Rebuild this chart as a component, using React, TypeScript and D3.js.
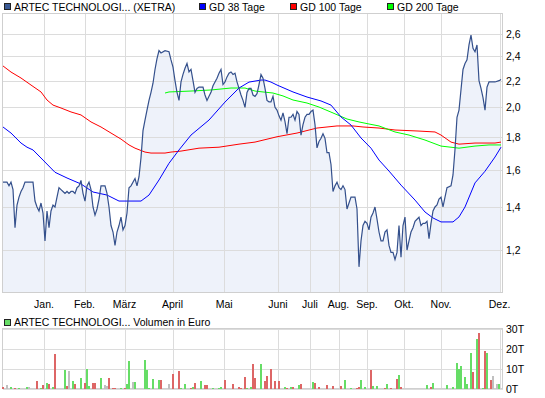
import React from "react";
import * as d3 from "d3";

// trading-day index (0..249) -> close in EUR
const price: [number, number][] = [
  [0, 1.53], [2, 1.53], [3, 1.51], [4, 1.53], [5, 1.49], [6, 1.3], [7, 1.41], [8, 1.45], [9, 1.48], [10, 1.5],
  [11, 1.53], [12, 1.53], [15, 1.53], [16, 1.43], [17, 1.4], [18, 1.38], [19, 1.42], [20, 1.37], [21, 1.24], [22, 1.38],
  [23, 1.3], [24, 1.38], [25, 1.41], [26, 1.4], [27, 1.45], [28, 1.5], [29, 1.49], [30, 1.48], [31, 1.47], [32, 1.48],
  [33, 1.47], [34, 1.48], [35, 1.48], [36, 1.47], [37, 1.5], [38, 1.51], [39, 1.54], [40, 1.47], [41, 1.43], [42, 1.51],
  [43, 1.53], [44, 1.49], [45, 1.4], [46, 1.36], [47, 1.39], [48, 1.44], [49, 1.51], [51, 1.51], [52, 1.47], [53, 1.4],
  [54, 1.31], [55, 1.28], [56, 1.22], [57, 1.28], [58, 1.31], [59, 1.35], [60, 1.29], [61, 1.31], [62, 1.37], [63, 1.5],
  [64, 1.51], [66, 1.55], [67, 1.51], [68, 1.56], [69, 1.67], [70, 1.84], [71, 1.91], [72, 1.98], [73, 2.05], [74, 2.11],
  [75, 2.18], [76, 2.29], [77, 2.38], [78, 2.45], [79, 2.43], [81, 2.45], [83, 2.44], [84, 2.37], [85, 2.31], [86, 2.2],
  [87, 2.11], [88, 2.05], [89, 2.19], [90, 2.25], [91, 2.3], [92, 2.34], [93, 2.27], [94, 2.29], [95, 2.2], [96, 2.11],
  [97, 2.14], [98, 2.15], [100, 2.15], [101, 2.09], [102, 2.05], [103, 2.08], [104, 2.11], [105, 2.16], [107, 2.22], [108, 2.26],
  [109, 2.29], [110, 2.17], [111, 2.19], [112, 2.23], [113, 2.26], [114, 2.27], [115, 2.25], [116, 2.26], [117, 2.19], [118, 2.14],
  [119, 2.09], [120, 2.05], [121, 2.0], [122, 2.11], [123, 2.14], [124, 2.14], [125, 2.09], [126, 2.08], [127, 2.1], [128, 2.17],
  [129, 2.25], [130, 2.22], [131, 2.14], [132, 2.05], [133, 2.04], [134, 2.04], [135, 2.08], [136, 2.0], [137, 1.98], [138, 1.94],
  [139, 1.91], [140, 1.96], [141, 1.9], [142, 1.82], [143, 1.93], [144, 1.93], [145, 1.95], [146, 1.91], [147, 1.97], [148, 1.95],
  [149, 1.81], [150, 1.88], [151, 1.93], [152, 1.95], [153, 1.95], [154, 1.97], [155, 1.98], [156, 1.88], [157, 1.73], [158, 1.77],
  [159, 1.79], [160, 1.82], [161, 1.79], [162, 1.7], [163, 1.7], [164, 1.63], [165, 1.48], [166, 1.51], [167, 1.53], [168, 1.5],
  [169, 1.49], [170, 1.51], [171, 1.49], [172, 1.39], [173, 1.42], [174, 1.45], [176, 1.45], [177, 1.39], [178, 1.13], [179, 1.24],
  [180, 1.31], [181, 1.33], [182, 1.32], [183, 1.29], [184, 1.35], [185, 1.37], [186, 1.4], [187, 1.34], [188, 1.28], [189, 1.24],
  [190, 1.24], [191, 1.28], [192, 1.29], [193, 1.22], [194, 1.19], [195, 1.19], [196, 1.16], [197, 1.19], [198, 1.31], [199, 1.17],
  [200, 1.31], [201, 1.35], [202, 1.2], [203, 1.24], [204, 1.28], [205, 1.3], [206, 1.33], [207, 1.34], [208, 1.35], [209, 1.31],
  [210, 1.32], [211, 1.32], [212, 1.33], [213, 1.25], [214, 1.32], [215, 1.38], [216, 1.4], [217, 1.41], [218, 1.44], [219, 1.45],
  [220, 1.4], [221, 1.45], [222, 1.5], [224, 1.51], [225, 1.57], [226, 1.72], [227, 1.93], [228, 1.98], [229, 2.13], [230, 2.29],
  [231, 2.34], [232, 2.37], [233, 2.5], [234, 2.59], [235, 2.47], [236, 2.44], [237, 2.5], [238, 2.2], [239, 2.14], [240, 2.07],
  [241, 1.98], [242, 2.15], [243, 2.19], [246, 2.19], [248, 2.2], [249, 2.21],
];

const gd38: [number, number][] = [
  [0, 1.864], [4, 1.824], [9, 1.76], [12, 1.734], [15, 1.717], [20, 1.656], [26, 1.585], [32, 1.553], [39, 1.52], [45, 1.477],
  [52, 1.461], [58, 1.43], [69, 1.43], [73, 1.461], [78, 1.542], [83, 1.637], [88, 1.717], [94, 1.811], [103, 1.911], [111, 2.038],
  [118, 2.143], [123, 2.189], [126, 2.197], [129, 2.205], [131, 2.205], [134, 2.189], [137, 2.166], [145, 2.113], [152, 2.075], [159, 2.046],
  [164, 2.016], [169, 1.932], [174, 1.877], [179, 1.792], [184, 1.728], [188, 1.656], [193, 1.592], [199, 1.514], [206, 1.435], [211, 1.375],
  [215, 1.346], [219, 1.327], [225, 1.327], [228, 1.351], [231, 1.4], [236, 1.526], [241, 1.591], [246, 1.674], [249, 1.734],
];

const gd100: [number, number][] = [
  [0, 2.319], [4, 2.269], [9, 2.221], [14, 2.166], [19, 2.113], [22, 2.053], [25, 2.016], [29, 1.995], [34, 1.967], [39, 1.946],
  [44, 1.898], [49, 1.864], [54, 1.824], [59, 1.785], [63, 1.748], [66, 1.728], [71, 1.704], [74, 1.698], [81, 1.698], [84, 1.704],
  [89, 1.71], [98, 1.728], [108, 1.734], [118, 1.753], [126, 1.766], [137, 1.8], [147, 1.824], [157, 1.857], [167, 1.871], [175, 1.871],
  [180, 1.864], [188, 1.857], [196, 1.844], [208, 1.837], [216, 1.831], [219, 1.811], [224, 1.766], [228, 1.753], [236, 1.76], [246, 1.76],
  [249, 1.766],
];

const gd200: [number, number][] = [
  [81, 2.105], [83, 2.113], [94, 2.12], [104, 2.128], [114, 2.143], [121, 2.143], [126, 2.12], [130, 2.113], [135, 2.105], [140, 2.083],
  [145, 2.053], [152, 2.031], [158, 2.002], [165, 1.96], [172, 1.918], [178, 1.898], [183, 1.884], [188, 1.871], [196, 1.831], [203, 1.811],
  [211, 1.779], [219, 1.741], [228, 1.728], [236, 1.741], [243, 1.748], [249, 1.748],
];

// day, volume in thousand EUR, direction (u = up, d = down, n = unchanged)
const volume: [number, number, string][] = [
  [0, 1, "d"], [2, 2, "n"], [4, 1, "u"], [6, 0.5, "d"], [8, 0.5, "u"], [12, 1, "u"], [13, 1, "n"], [17, 4.1, "d"], [19, 0.5, "u"], [20, 2, "d"],
  [22, 3, "u"], [23, 2.5, "d"], [25, 1, "u"], [26, 17.3, "d"], [31, 9.7, "u"], [32, 1.5, "d"], [33, 9.2, "n"], [35, 4.1, "u"], [36, 2.5, "d"], [39, 5.6, "u"],
  [41, 3, "d"], [42, 10.2, "u"], [43, 1.5, "u"], [45, 3, "d"], [46, 3, "d"], [49, 5.6, "u"], [51, 2, "n"], [52, 1.7, "n"], [53, 5.6, "d"], [55, 0.5, "d"],
  [56, 0.5, "d"], [59, 0.5, "u"], [61, 0.5, "d"], [62, 2.5, "u"], [63, 14.2, "u"], [65, 3.6, "n"], [66, 3.6, "u"], [71, 14.7, "u"], [72, 9.7, "u"], [73, 0.5, "u"],
  [75, 5.1, "u"], [78, 4.6, "u"], [79, 4.6, "d"], [83, 2.5, "n"], [85, 7.6, "d"], [88, 9.2, "d"], [89, 0.5, "u"], [91, 2.5, "u"], [94, 0.5, "d"], [95, 1, "u"],
  [96, 3, "d"], [99, 4.1, "u"], [101, 2, "d"], [102, 2, "d"], [105, 0.5, "u"], [108, 0.5, "u"], [109, 1, "u"], [111, 4.6, "d"], [115, 2.5, "d"], [118, 1, "d"],
  [119, 0.5, "d"], [121, 6.1, "d"], [122, 0.5, "u"], [124, 1, "u"], [125, 12.7, "d"], [126, 5.6, "d"], [129, 12.7, "u"], [131, 4.1, "d"], [132, 6.6, "d"], [134, 10.2, "d"],
  [136, 4.1, "d"], [138, 4.1, "d"], [141, 1, "u"], [142, 0.5, "d"], [144, 1, "u"], [145, 1, "d"], [148, 2, "u"], [149, 2.5, "d"], [155, 3.6, "u"], [156, 3, "d"],
  [158, 1, "d"], [162, 2, "d"], [165, 1.5, "d"], [169, 1.5, "d"], [171, 4.6, "u"], [174, 0.5, "u"], [177, 0.5, "d"], [178, 1, "d"], [179, 4.6, "u"], [181, 1, "u"],
  [184, 9.7, "d"], [185, 1.5, "u"], [187, 1.5, "u"], [191, 0.5, "d"], [192, 2.5, "u"], [194, 0.5, "d"], [197, 5.1, "d"], [198, 7.1, "u"], [199, 1, "d"], [212, 2, "u"],
  [214, 1, "d"], [215, 3, "u"], [222, 2, "u"], [225, 1, "u"], [227, 13.2, "u"], [228, 10.2, "u"], [229, 11.7, "u"], [231, 5.8, "u"], [232, 2.5, "u"], [234, 17.8, "u"],
  [235, 8.6, "d"], [237, 24.9, "u"], [238, 28, "d"], [240, 0.5, "u"], [241, 18.8, "d"], [242, 17.8, "u"], [244, 4.6, "d"], [245, 6.6, "n"], [247, 2.5, "n"], [248, 2.5, "u"],
];

const monthLabels = ["Jan.", "Feb.", "März", "April", "Mai", "Juni", "Juli", "Aug.", "Sep.", "Okt.", "Nov.", "Dez."];
const monthDays = [20.5, 40.75, 60.75, 84.75, 110.6, 137.5, 153.5, 167.75, 182, 200.5, 219, 248.25];
const priceTicks = [1.2, 1.4, 1.6, 1.8, 2.0, 2.2, 2.4, 2.6];
const volumeTicks = [0, 10, 20, 30];

const legend = [
  { label: "ARTEC TECHNOLOGI... (XETRA)", color: "#3a5a95", x: 4 },
  { label: "GD 38 Tage", color: "#0000ff", x: 199 },
  { label: "GD 100 Tage", color: "#ff0000", x: 290 },
  { label: "GD 200 Tage", color: "#00ff00", x: 387 },
];

const volColor: Record<string, string> = { u: "#66dd66", d: "#dd6666", n: "#c0c0c0" };

const font = "'Liberation Sans', Arial, sans-serif";
const crisp = (v: number) => Math.round(v) + 0.5;

export default function App() {
  const left = 3, right = 503;
  const pTop = 14, pBottom = 293;
  const vTop = 329, vBottom = 389;

  const x = d3.scaleLinear().domain([0, 250]).range([left, right]);
  const y = d3.scaleLog().domain([1.029, 2.793]).range([pBottom, pTop]);
  const yv = d3.scaleLinear().domain([0, 30]).range([vBottom, vTop]);

  const line = d3.line<[number, number]>().x(d => x(d[0])).y(d => y(d[1]));
  const area = d3.area<[number, number]>().x(d => x(d[0])).y0(pBottom).y1(d => y(d[1]));

  const grid = "#dcdcdc";
  const frame = "#cfcfcf";

  return (
    <svg width={545} height={398} style={{ position: "absolute", left: 0, top: 0, background: "#fff" }}
      fontFamily={font} fontSize={10.5}>
      {/* legend */}
      {legend.map(l => (
        <g key={l.label}>
          <rect x={l.x + 0.5} y={3.5} width={6} height={6} fill={l.color} stroke="#222" />
          <text x={l.x + 10} y={10.5}>{l.label}</text>
        </g>
      ))}

      {/* price panel */}
      <path d={area(price) || ""} fill="#eef2fa" />
      <g stroke={grid} shapeRendering="crispEdges">
        {priceTicks.map(t => (
          <line key={t} x1={left} x2={right} y1={crisp(y(t))} y2={crisp(y(t))} />
        ))}
        {monthDays.map(d => (
          <line key={d} x1={crisp(x(d))} x2={crisp(x(d))} y1={pTop} y2={pBottom} />
        ))}
      </g>
      <rect x={left - 0.5} y={pTop - 0.5} width={right - left} height={pBottom - pTop} fill="none" stroke={frame} shapeRendering="crispEdges" />
      <path d={line(gd100) || ""} fill="none" stroke="#ff0000" strokeWidth={1} />
      <path d={line(gd200) || ""} fill="none" stroke="#00ff00" strokeWidth={1} />
      <path d={line(gd38) || ""} fill="none" stroke="#0000ff" strokeWidth={1} />
      <path d={line(price) || ""} fill="none" stroke="#34508c" strokeWidth={1.2} />

      {priceTicks.map(t => (
        <text key={t} x={506} y={y(t) + 4}>{d3.format(".1f")(t).replace(".", ",")}</text>
      ))}
      {monthDays.map((d, i) => (
        <text key={d} x={x(d)} y={308} textAnchor="middle">{monthLabels[i]}</text>
      ))}

      {/* volume panel */}
      <rect x={4.5} y={319.5} width={6} height={6} fill="#66dd66" stroke="#222" />
      <text x={14} y={326}>ARTEC TECHNOLOGI... Volumen in Euro</text>
      <g stroke={grid} shapeRendering="crispEdges">
        {volumeTicks.map(t => (
          <line key={t} x1={left} x2={right} y1={crisp(yv(t))} y2={crisp(yv(t))} />
        ))}
        {monthDays.map(d => (
          <line key={d} x1={crisp(x(d))} x2={crisp(x(d))} y1={vTop} y2={vBottom} />
        ))}
      </g>
      <rect x={left - 0.5} y={vTop - 0.5} width={right - left} height={vBottom - vTop} fill="none" stroke={frame} shapeRendering="crispEdges" />
      <g shapeRendering="crispEdges">
        {volume.map(([d, v, k]) => {
          const top = Math.round(yv(v));
          return <rect key={d} x={Math.round(x(d)) - 1} y={top} width={2} height={vBottom - top} fill={volColor[k]} />;
        })}
      </g>
      {volumeTicks.map(t => (
        <text key={t} x={506} y={yv(t) + 4}>{t}T</text>
      ))}
    </svg>
  );
}
